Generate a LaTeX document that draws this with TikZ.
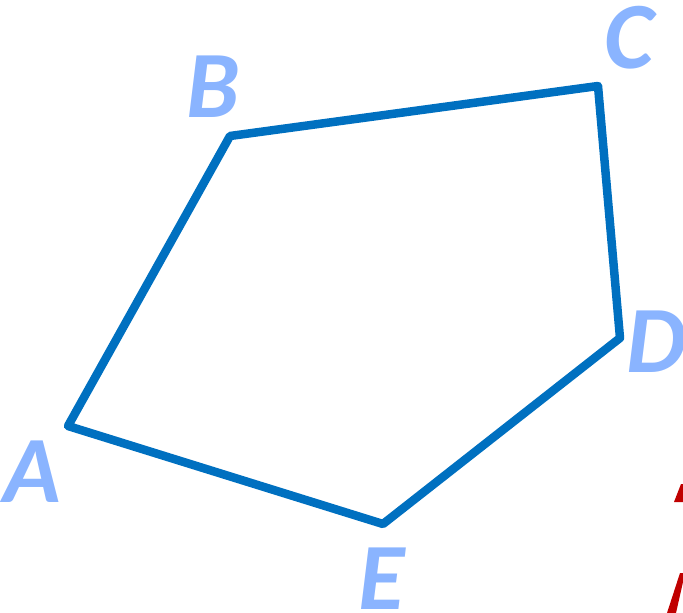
\documentclass[tikz,border=0pt]{standalone}
\usepackage{fontspec}
\setmainfont{Carlito}
\definecolor{edgeblue}{HTML}{0070C0}
\definecolor{labelblue}{HTML}{8AB4FF}
\definecolor{redmark}{HTML}{C00000}
\begin{document}
\begin{tikzpicture}[x=1pt,y=-1pt,
  lbl/.style={text=labelblue,inner sep=0pt,font=\fontsize{95}{95}\selectfont\bfseries\itshape},
  poly/.style={draw=edgeblue,line width=8.5pt,line join=round}]
\useasboundingbox (0,0) rectangle (683,613);
\clip (0,0) rectangle (683,613);
\coordinate (A) at (68,426);
\coordinate (B) at (230,136);
\coordinate (C) at (598,86);
\coordinate (D) at (620,338);
\coordinate (E) at (383,524);
\draw[poly] (A) -- (B) -- (C) -- (D) -- (E) -- cycle;
\node[lbl] (la) at (32,472) {A};
\node[lbl] (lb) at (213,87) {B};
\node[lbl] (lc) at (629,38) {C};
\node[lbl] (ld) at (656,342) {D};
\node[lbl] (le) at (382,579) {E};
\fill[redmark] (681,484) -- (683,484) -- (683,502) -- (674,502) -- cycle;
\fill[redmark] (680,573) -- (683,573) -- (683,582) -- (676,613) -- (667,613) -- cycle;
\end{tikzpicture}
\end{document}
